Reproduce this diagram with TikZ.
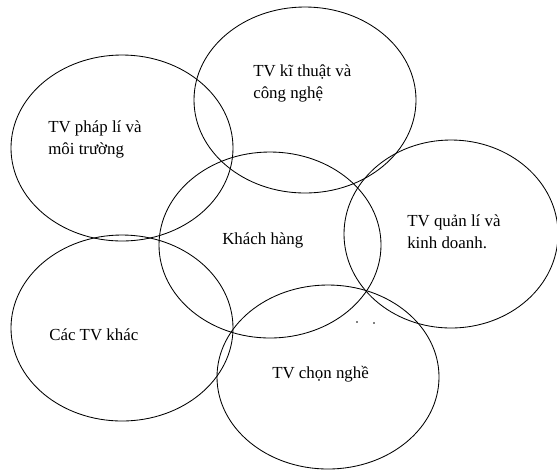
\documentclass[tikz,border=0pt]{standalone}
\usepackage{fontspec}
\setmainfont{Liberation Serif}
\begin{document}
\begin{tikzpicture}[x=0.025cm,y=-0.025cm,
    vong/.style={draw,line width=0.6pt},
    nhan/.style={anchor=base west,inner sep=0pt,align=left,font=\fontsize{12}{15}\selectfont}]
  \useasboundingbox (0,0) rectangle (557,470);
  % sau vong tron
  \draw[vong] (305,100) ellipse [x radius=111,y radius=93];
  \draw[vong] (122,148) ellipse [x radius=111,y radius=93];
  \draw[vong] (270,245) ellipse [x radius=111,y radius=93];
  \draw[vong] (451,234) ellipse [x radius=107,y radius=94];
  \draw[vong] (122,328) ellipse [x radius=111,y radius=93];
  \draw[vong] (328,377) ellipse [x radius=111,y radius=92];
  % chu (base = dong cuoi)
  \node[nhan] (kithuat) at (253,98) {TV kĩ thuật và\\công nghệ};
  \node[nhan] (phapli) at (48,154) {TV pháp lí và\\môi trường};
  \node[nhan] (khach) at (222,244) {Khách hàng};
  \node[nhan] (quanli) at (407,248) {TV quản lí và\\kinh doanh.};
  \node[nhan] (khac) at (49,340) {Các TV khác};
  \node[nhan] (chon) at (272,378) {TV chọn nghề};
  % hai vet nho
  \fill (357,322) circle [radius=0.9];
  \fill (374,323) circle [radius=0.9];
\end{tikzpicture}
\end{document}
